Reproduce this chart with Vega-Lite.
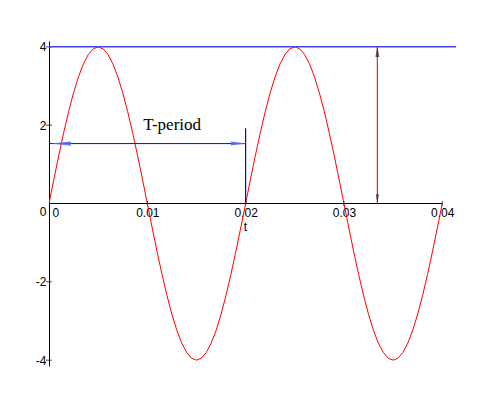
{
  "$schema": "https://vega.github.io/schema/vega-lite/v6.json",
  "autosize": {"type": "none"},
  "padding": {"left": 49, "top": 41, "right": 36, "bottom": 41},
  "width": 407,
  "height": 325,
  "background": "white",
  "config": {"view": {"stroke": null}},
  "datasets": {
    "curve": [
      {"t": 0.0, "y": 0}, {"t": 0.0005, "y": 0.6257}, {"t": 0.001, "y": 1.2361}, {"t": 0.0015, "y": 1.816}, {"t": 0.002, "y": 2.3511},
      {"t": 0.0025, "y": 2.8284}, {"t": 0.003, "y": 3.2361}, {"t": 0.0035, "y": 3.564}, {"t": 0.004, "y": 3.8042}, {"t": 0.0045, "y": 3.9507},
      {"t": 0.005, "y": 4}, {"t": 0.0055, "y": 3.9507}, {"t": 0.006, "y": 3.8042}, {"t": 0.0065, "y": 3.564}, {"t": 0.007, "y": 3.2361},
      {"t": 0.0075, "y": 2.8284}, {"t": 0.008, "y": 2.3511}, {"t": 0.0085, "y": 1.816}, {"t": 0.009, "y": 1.2361}, {"t": 0.0095, "y": 0.6257},
      {"t": 0.01, "y": 0}, {"t": 0.0105, "y": -0.6257}, {"t": 0.011, "y": -1.2361}, {"t": 0.0115, "y": -1.816}, {"t": 0.012, "y": -2.3511},
      {"t": 0.0125, "y": -2.8284}, {"t": 0.013, "y": -3.2361}, {"t": 0.0135, "y": -3.564}, {"t": 0.014, "y": -3.8042}, {"t": 0.0145, "y": -3.9507},
      {"t": 0.015, "y": -4}, {"t": 0.0155, "y": -3.9507}, {"t": 0.016, "y": -3.8042}, {"t": 0.0165, "y": -3.564}, {"t": 0.017, "y": -3.2361},
      {"t": 0.0175, "y": -2.8284}, {"t": 0.018, "y": -2.3511}, {"t": 0.0185, "y": -1.816}, {"t": 0.019, "y": -1.2361}, {"t": 0.0195, "y": -0.6257},
      {"t": 0.02, "y": 0}, {"t": 0.0205, "y": 0.6257}, {"t": 0.021, "y": 1.2361}, {"t": 0.0215, "y": 1.816}, {"t": 0.022, "y": 2.3511},
      {"t": 0.0225, "y": 2.8284}, {"t": 0.023, "y": 3.2361}, {"t": 0.0235, "y": 3.564}, {"t": 0.024, "y": 3.8042}, {"t": 0.0245, "y": 3.9507},
      {"t": 0.025, "y": 4}, {"t": 0.0255, "y": 3.9507}, {"t": 0.026, "y": 3.8042}, {"t": 0.0265, "y": 3.564}, {"t": 0.027, "y": 3.2361},
      {"t": 0.0275, "y": 2.8284}, {"t": 0.028, "y": 2.3511}, {"t": 0.0285, "y": 1.816}, {"t": 0.029, "y": 1.2361}, {"t": 0.0295, "y": 0.6257},
      {"t": 0.03, "y": 0}, {"t": 0.0305, "y": -0.6257}, {"t": 0.031, "y": -1.2361}, {"t": 0.0315, "y": -1.816}, {"t": 0.032, "y": -2.3511},
      {"t": 0.0325, "y": -2.8284}, {"t": 0.033, "y": -3.2361}, {"t": 0.0335, "y": -3.564}, {"t": 0.034, "y": -3.8042}, {"t": 0.0345, "y": -3.9507},
      {"t": 0.035, "y": -4}, {"t": 0.0355, "y": -3.9507}, {"t": 0.036, "y": -3.8042}, {"t": 0.0365, "y": -3.564}, {"t": 0.037, "y": -3.2361},
      {"t": 0.0375, "y": -2.8284}, {"t": 0.038, "y": -2.3511}, {"t": 0.0385, "y": -1.816}, {"t": 0.039, "y": -1.2361}, {"t": 0.0395, "y": -0.6257},
      {"t": 0.04, "y": 0}
    ],
    "amp": [{"t": 0, "t2": 0.0414, "y": 4}],
    "xaxis": [{"t": 0, "t2": 0.04, "y": 0}],
    "period": [{"t": 0, "t2": 0.02, "y": 1.53}],
    "pmark": [{"t": 0.02, "y": 0, "y2": 1.92}],
    "ampArrow": [{"t": 0.0334, "y": 0, "y2": 4}],
    "headL": [{"t": 0.0012, "y": 1.53}],
    "headR": [{"t": 0.0193, "y": 1.53}],
    "headUp": [{"t": 0.0334, "y": 3.88}],
    "headDown": [{"t": 0.0334, "y": 0.12}],
    "yticks": [{"t": 0, "y": -4}, {"t": 0, "y": -2}, {"t": 0, "y": 2}, {"t": 0, "y": 4}],
    "xticks": [{"t": 0.01, "y": 0}, {"t": 0.02, "y": 0}, {"t": 0.03, "y": 0}, {"t": 0.04, "y": 0}],
    "label": [{"t": 0.01252, "y": 1.88, "text": "T-period"}]
  },
  "layer": [
    {
      "data": {"name": "xaxis"},
      "mark": {"type": "rule", "color": "black", "strokeWidth": 1},
      "encoding": {
        "x": {"field": "t", "type": "quantitative", "scale": {"domain": [0, 0.0414], "nice": false, "zero": false},
          "axis": {"orient": "bottom", "offset": -162.5, "domain": false, "ticks": false, "grid": false,
            "values": [0, 0.01, 0.02, 0.03, 0.04], "format": ".2~f",
            "labelFont": "Liberation Sans", "labelFontSize": 12, "labelColor": "black", "labelPadding": 4,
            "labelOffset": {"condition": {"test": "datum.value == 0", "value": 3}, "value": 0},
            "title": "t", "titleFont": "Liberation Sans", "titleFontSize": 12, "titleFontWeight": "normal", "titleColor": "black",
            "titlePadding": 3, "titleX": 196, "titleAlign": "center"}},
        "x2": {"field": "t2"},
        "y": {"field": "y", "type": "quantitative", "scale": {"domain": [-4.15, 4.15], "nice": false, "zero": false},
          "axis": {"orient": "left", "domain": true, "domainColor": "black", "domainWidth": 1, "ticks": false, "grid": false,
            "values": [-4, -2, 0, 2, 4], "labelExpr": "'' + datum.value",
            "labelFont": "Liberation Sans", "labelFontSize": 12, "labelColor": "black", "labelPadding": 3,
            "labelOffset": {"condition": {"test": "datum.value == 0", "value": 8}, "value": 0},
            "title": null}}
      }
    },
    {
      "data": {"name": "yticks"},
      "mark": {"type": "tick", "orient": "horizontal", "color": "black", "size": 6, "thickness": 1},
      "encoding": {"x": {"field": "t", "type": "quantitative"}, "y": {"field": "y", "type": "quantitative"}}
    },
    {
      "data": {"name": "xticks"},
      "mark": {"type": "tick", "orient": "vertical", "color": "black", "size": 5, "thickness": 1},
      "encoding": {"x": {"field": "t", "type": "quantitative"}, "y": {"field": "y", "type": "quantitative"}}
    },
    {
      "data": {"name": "curve"},
      "mark": {"type": "line", "color": "#ff0000", "strokeWidth": 1, "clip": true},
      "encoding": {"x": {"field": "t", "type": "quantitative"}, "y": {"field": "y", "type": "quantitative"}}
    },
    {
      "data": {"name": "amp"},
      "mark": {"type": "rule", "color": "#4a40f0", "strokeWidth": 1.5},
      "encoding": {"x": {"field": "t", "type": "quantitative"}, "x2": {"field": "t2"}, "y": {"field": "y", "type": "quantitative"}}
    },
    {
      "data": {"name": "period"},
      "mark": {"type": "rule", "color": "#0000ff", "strokeWidth": 1},
      "encoding": {"x": {"field": "t", "type": "quantitative"}, "x2": {"field": "t2"}, "y": {"field": "y", "type": "quantitative"}}
    },
    {
      "data": {"name": "pmark"},
      "mark": {"type": "rule", "color": "#0000ff", "strokeWidth": 1.2},
      "encoding": {"x": {"field": "t", "type": "quantitative"}, "y": {"field": "y", "type": "quantitative"}, "y2": {"field": "y2"}}
    },
    {
      "data": {"name": "ampArrow"},
      "mark": {"type": "rule", "color": "#ff2020", "strokeWidth": 1.2},
      "encoding": {"x": {"field": "t", "type": "quantitative"}, "y": {"field": "y", "type": "quantitative"}, "y2": {"field": "y2"}}
    },
    {
      "data": {"name": "headL"},
      "mark": {"type": "point", "shape": "M -1 0 L 1 -0.22 L 1 0.22 Z", "filled": true, "color": "#5a6cff", "opacity": 0.9, "size": 400},
      "encoding": {"x": {"field": "t", "type": "quantitative"}, "y": {"field": "y", "type": "quantitative"}}
    },
    {
      "data": {"name": "headR"},
      "mark": {"type": "point", "shape": "M 1 0 L -1 -0.25 L -1 0.25 Z", "filled": true, "color": "#5a6cff", "opacity": 0.9, "size": 256},
      "encoding": {"x": {"field": "t", "type": "quantitative"}, "y": {"field": "y", "type": "quantitative"}}
    },
    {
      "data": {"name": "headUp"},
      "mark": {"type": "point", "shape": "M 0 -1 L -0.35 1 L 0.35 1 Z", "filled": true, "color": "#222222", "size": 121},
      "encoding": {"x": {"field": "t", "type": "quantitative"}, "y": {"field": "y", "type": "quantitative"}}
    },
    {
      "data": {"name": "headDown"},
      "mark": {"type": "point", "shape": "M 0 1 L -0.35 -1 L 0.35 -1 Z", "filled": true, "color": "#222222", "size": 81},
      "encoding": {"x": {"field": "t", "type": "quantitative"}, "y": {"field": "y", "type": "quantitative"}}
    },
    {
      "data": {"name": "label"},
      "mark": {"type": "text", "font": "Liberation Serif", "fontSize": 17, "color": "black", "align": "center", "baseline": "alphabetic"},
      "encoding": {"x": {"field": "t", "type": "quantitative"}, "y": {"field": "y", "type": "quantitative"}, "text": {"field": "text"}}
    }
  ]
}
